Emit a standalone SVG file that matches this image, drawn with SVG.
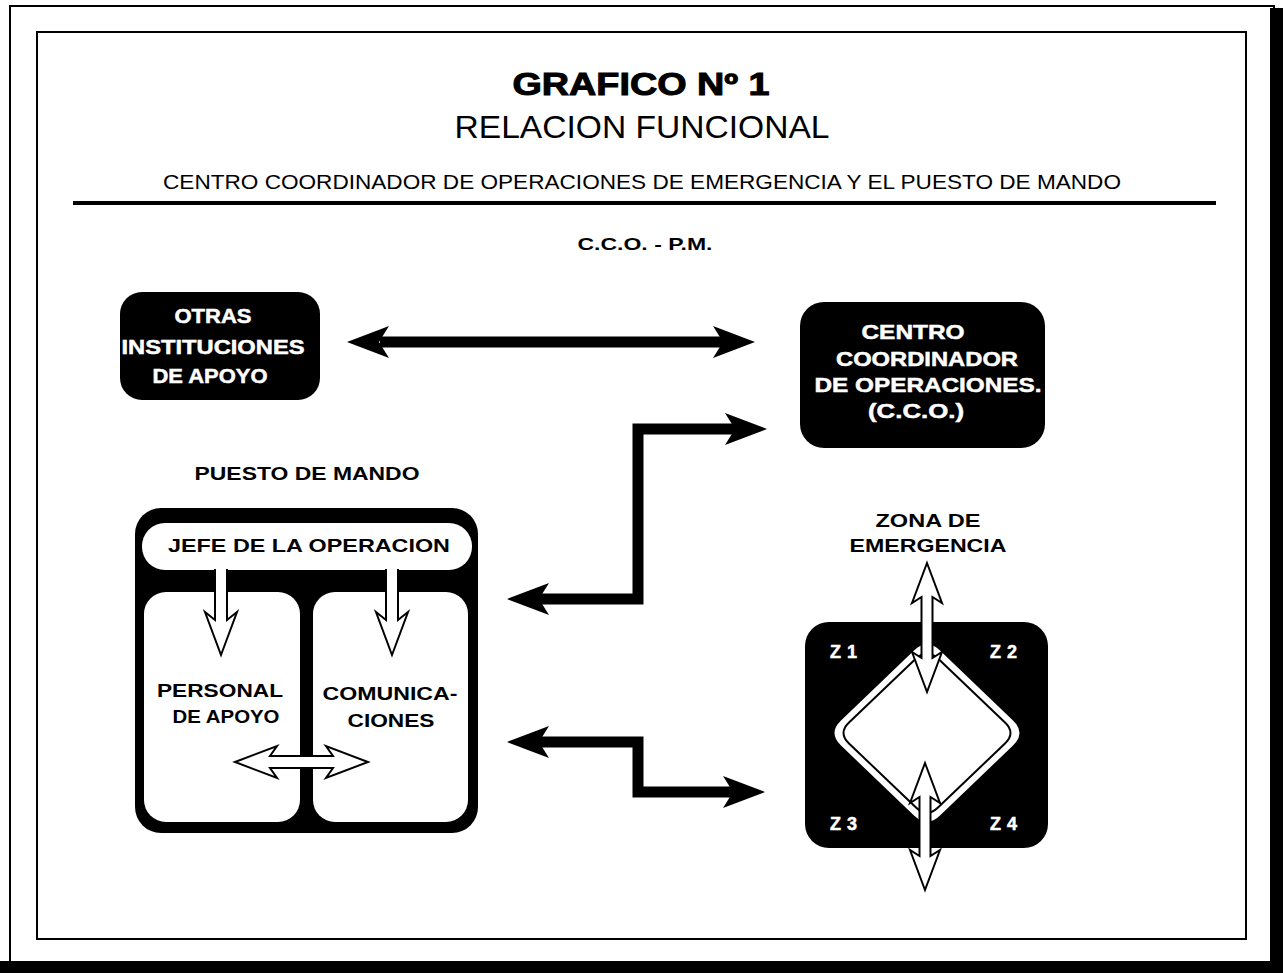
<svg xmlns="http://www.w3.org/2000/svg" width="1283" height="973" viewBox="0 0 1283 973">
<style>
.b{font-family:"Liberation Sans",Arial,sans-serif;font-weight:bold;fill:#000}
.wt{font-family:"Liberation Sans",Arial,sans-serif;font-weight:bold;fill:#fff;stroke:#fff;stroke-width:0.5}
.lt{font-family:"Liberation Sans",Arial,sans-serif;font-weight:normal;fill:#000}
.hv{stroke:#000;stroke-width:1}
.blk{fill:#000}
.wa{fill:#fff;stroke:#000;stroke-width:2;stroke-linejoin:miter}
.ln{fill:none;stroke:#000;stroke-width:11;stroke-linejoin:miter}
</style>
<rect x="0" y="0" width="1283" height="973" fill="#fff"/>
<g id="frame">
<rect x="10" y="6" width="1264" height="958" fill="none" stroke="#000" stroke-width="2"/>
<rect x="1270" y="8" width="13" height="965" fill="#000"/>
<rect x="0" y="961" width="1283" height="12" fill="#000"/>
<rect x="37" y="32" width="1209" height="907" fill="none" stroke="#000" stroke-width="2"/>
</g>
<g id="title">
<text class="b hv" x="641" y="95" font-size="31" text-anchor="middle" textLength="257" lengthAdjust="spacingAndGlyphs">GRAFICO Nº 1</text>
<text class="lt" x="642" y="138" font-size="31" text-anchor="middle" textLength="375" lengthAdjust="spacingAndGlyphs">RELACION FUNCIONAL</text>
<text class="lt" x="642" y="189" font-size="20" text-anchor="middle" textLength="958" lengthAdjust="spacingAndGlyphs">CENTRO COORDINADOR DE OPERACIONES DE EMERGENCIA Y EL PUESTO DE MANDO</text>
<rect x="73" y="201" width="1143" height="4" fill="#000"/>
<text class="b" x="645" y="250" font-size="17" text-anchor="middle" textLength="135" lengthAdjust="spacingAndGlyphs">C.C.O. - P.M.</text>
</g>
<g id="otras">
<rect x="120" y="292" width="200" height="108" rx="22" class="blk"/>
<text class="wt" x="213" y="323" font-size="20" text-anchor="middle" textLength="77" lengthAdjust="spacingAndGlyphs">OTRAS</text>
<text class="wt" x="213" y="354" font-size="20" text-anchor="middle" textLength="183" lengthAdjust="spacingAndGlyphs">INSTITUCIONES</text>
<text class="wt" x="210" y="383" font-size="20" text-anchor="middle" textLength="115" lengthAdjust="spacingAndGlyphs">DE APOYO</text>
</g>
<g id="cco">
<rect x="800" y="302" width="245" height="146" rx="24" class="blk"/>
<text class="wt" x="913" y="339" font-size="20" text-anchor="middle" textLength="103" lengthAdjust="spacingAndGlyphs">CENTRO</text>
<text class="wt" x="927" y="366" font-size="20" text-anchor="middle" textLength="182" lengthAdjust="spacingAndGlyphs">COORDINADOR</text>
<text class="wt" x="928" y="392" font-size="20" text-anchor="middle" textLength="227" lengthAdjust="spacingAndGlyphs">DE OPERACIONES.</text>
<text class="wt" x="916" y="418" font-size="20" text-anchor="middle" textLength="96" lengthAdjust="spacingAndGlyphs">(C.C.O.)</text>
</g>
<g id="puesto">
<text class="b" x="307" y="480" font-size="18" text-anchor="middle" textLength="225" lengthAdjust="spacingAndGlyphs">PUESTO DE MANDO</text>
<rect x="135" y="508" width="343" height="325" rx="26" class="blk"/>
<rect x="142" y="523" width="330" height="47" rx="23" fill="#fff"/>
<text class="b" x="309" y="552" font-size="18" text-anchor="middle" textLength="282" lengthAdjust="spacingAndGlyphs">JEFE DE LA OPERACION</text>
<rect x="144" y="592" width="156" height="230" rx="22" fill="#fff"/>
<rect x="313" y="592" width="155" height="230" rx="22" fill="#fff"/>
<text class="b" x="220" y="697" font-size="19" text-anchor="middle" textLength="126" lengthAdjust="spacingAndGlyphs">PERSONAL</text>
<text class="b" x="226" y="723" font-size="19" text-anchor="middle" textLength="107" lengthAdjust="spacingAndGlyphs">DE APOYO</text>
<text class="b" x="390" y="700" font-size="19" text-anchor="middle" textLength="135" lengthAdjust="spacingAndGlyphs">COMUNICA-</text>
<text class="b" x="391" y="727" font-size="19" text-anchor="middle" textLength="87" lengthAdjust="spacingAndGlyphs">CIONES</text>
</g>
<g id="zona">
<text class="b" x="928" y="527" font-size="18" text-anchor="middle" textLength="105" lengthAdjust="spacingAndGlyphs">ZONA DE</text>
<text class="b" x="928" y="552" font-size="18" text-anchor="middle" textLength="157" lengthAdjust="spacingAndGlyphs">EMERGENCIA</text>
<rect x="805" y="622" width="243" height="226" rx="24" class="blk"/>
<path d="M 940,650.5 L 1013,720.5 Q 1026,733 1013,745.5 L 940,815.5 Q 927,828 914,815.5 L 841,745.5 Q 828,733 841,720.5 L 914,650.5 Q 927,638 940,650.5 Z" fill="#fff"/>
<path d="M 938,658.5 L 1005,722.5 Q 1016,733 1005,743.5 L 938,807.5 Q 927,818 916,807.5 L 849,743.5 Q 838,733 849,722.5 L 916,658.5 Q 927,648 938,658.5 Z" fill="#fff" stroke="#000" stroke-width="2"/>
<text class="wt" x="830" y="658" font-size="18" letter-spacing="6">Z1</text>
<text class="wt" x="990" y="658" font-size="18" letter-spacing="6">Z2</text>
<text class="wt" x="830" y="830" font-size="18" letter-spacing="6">Z3</text>
<text class="wt" x="990" y="830" font-size="18" letter-spacing="6">Z4</text>
</g>
<g id="connectors">
<rect x="380" y="336.5" width="343" height="11" class="blk"/>
<path class="blk" d="M 347,342 L 389,326 L 379,342 L 389,358 Z"/>
<path class="blk" d="M 755,342 L 713,326 L 723,342 L 713,358 Z"/>
<polyline class="ln" points="736,429 638,429 638,599 538,599"/>
<path class="blk" d="M 767,429 L 725,413 L 735,429 L 725,445 Z"/>
<path class="blk" d="M 507,599 L 549,583 L 539,599 L 549,615 Z"/>
<polyline class="ln" points="538,742 638,742 638,792 734,792"/>
<path class="blk" d="M 507,742 L 549,726 L 539,742 L 549,758 Z"/>
<path class="blk" d="M 765,792 L 723,776 L 733,792 L 723,808 Z"/>
<path class="wa" d="M 215,569 L 215,620 L 205,612 L 221,655 L 237,612 L 227,620 L 227,569"/>
<path class="wa" d="M 386,569 L 386,620 L 376,612 L 392,655 L 408,612 L 398,620 L 398,569"/>
<path class="wa" d="M 235,762 L 277,746 L 270,756 L 333,756 L 326,746 L 368,762 L 326,778 L 333,768 L 270,768 L 277,778 Z"/>
<path class="wa" d="M 927,563 L 942,603 L 932.5,597 L 932.5,658 L 942,652 L 927,692 L 912,652 L 921.5,658 L 921.5,597 L 912,603 Z"/>
<path class="wa" d="M 925,763 L 940,803 L 930.5,797 L 930.5,856 L 940,850 L 925,890 L 910,850 L 919.5,856 L 919.5,797 L 910,803 Z"/>
</g>
</svg>
